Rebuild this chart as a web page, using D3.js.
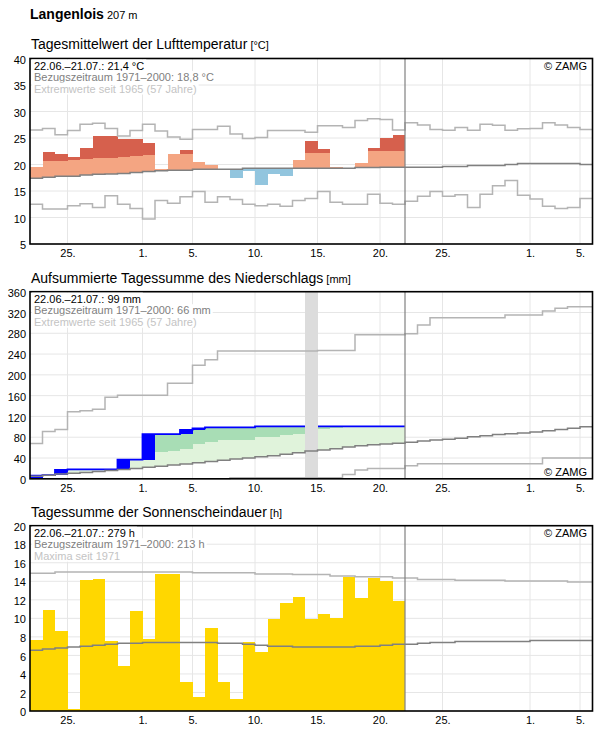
<!DOCTYPE html>
<html>
<head>
<meta charset="utf-8">
<script src="https://cdn.jsdelivr.net/npm/d3@7"></script>
<style>
  body { margin: 0; background: #fff; }
  svg text { font-family: "Liberation Sans", Arial, sans-serif; }
</style>
</head>
<body>
<svg id="chart" width="596" height="729"></svg>
<script>
// --- data ---
// observed period 22.06.–21.07. (30 days), climate values 22.06.–05.08. (45 days)
const startDay = new Date(Date.UTC(2021, 5, 22));
const endDay = new Date(Date.UTC(2021, 7, 6));
const obsEnd = new Date(Date.UTC(2021, 6, 22));
const tickDates = [[5, 25], [6, 1], [6, 5], [6, 10], [6, 15], [6, 20], [6, 25], [7, 1], [7, 5]];

// temperature [°C]
const tempTicks = [5, 10, 15, 20, 25, 30, 35, 40];
const tempObs = [19.6, 22.4, 22.0, 21.4, 23.1, 25.4, 25.4, 24.9, 24.9, 24.1,
                 19.2, 22.0, 22.7, 20.5, 19.9, 19.1, 17.5, 18.8, 16.2, 18.2,
                 17.9, 20.9, 24.4, 22.9, 19.5, 19.3, 20.2, 23.1, 25.0, 25.6];
const tempUpper = [20.5, 20.66, 20.7, 20.85, 21.04, 21.2, 21.2, 21.4, 21.6, 21.8,
                   21.9, 22.0, 22.0, 22.1, 22.1, 22.1, 22.1, 22.1, 22.2, 22.2,
                   22.2, 22.2, 22.2, 22.2, 22.3, 22.4, 22.5, 22.55, 22.55, 22.55];
const tempMean = [17.4, 17.6, 17.8, 17.8, 18.0, 18.15, 18.2, 18.3, 18.5, 18.7,
                  18.8, 18.9, 18.9, 19.1, 19.1, 19.1, 19.1, 19.3, 19.3, 19.3,
                  19.3, 19.3, 19.3, 19.3, 19.3, 19.3, 19.45, 19.45, 19.5, 19.5,
                  19.5, 19.5, 19.5, 19.6, 19.6, 19.8, 19.8, 19.8, 20.0, 20.2,
                  20.2, 20.2, 20.2, 20.2, 20.0];
const tempMax = [26.5, 26.8, 25.6, 26.4, 27.6, 27.8, 26.8, 25.4, 26.4, 27.6,
                 26.3, 25.2, 24.75, 26.6, 26.6, 27.2, 25.75, 24.9, 25.1, 26.4,
                 26.4, 26.4, 26.1, 27.3, 27.3, 27.0, 28.3, 28.65, 28.5, 26.5,
                 27.9, 27.45, 26.6, 26.45, 27.0, 26.45, 27.6, 27.4, 26.45, 26.75,
                 26.8, 27.9, 27.45, 27.0, 26.6];
const tempMin = [12.5, 11.6, 11.6, 12.2, 12.6, 11.9, 14.1, 12.5, 11.7, 9.7,
                 13.2, 12.7, 13.9, 14.9, 12.9, 13.9, 13.4, 12.5, 12.2, 12.5,
                 12.1, 13.2, 13.6, 14.9, 12.9, 12.5, 12.5, 14.4, 12.7, 12.5,
                 13.05, 14.0, 14.9, 14.0, 14.3, 11.9, 14.4, 16.0, 17.0, 14.2,
                 13.5, 12.1, 11.7, 11.9, 13.6];

// precipitation, cumulative [mm]
const precTicks = [0, 40, 80, 120, 160, 200, 240, 280, 320, 360];
const precCum = [6, 7, 17, 18, 18, 18, 18, 37, 37, 86,
                 86, 86, 94, 97, 99, 99, 99, 99, 101, 101,
                 101, 101, 101, 101, 101, 101, 101, 101, 101, 101];
const precUpper = [9, 12, 17, 19, 21, 24, 27, 30, 40, 48,
                   52, 53.5, 57, 67.5, 71, 74.7, 74.7, 74.7, 81, 81,
                   84, 87, 92, 96.5, 98.5, 103, 106, 108, 110, 112];
const precMissing = [22];
const precMean = [5, 7, 9, 10.5, 12, 14, 16, 18, 20, 22,
                  24, 26.5, 28.5, 31, 33.5, 35.5, 38, 40, 42.5, 44.5,
                  47, 50, 53.5, 55.5, 58, 61, 63.5, 65.5, 67, 68.5,
                  70.5, 72.5, 74.5, 76, 78, 81, 83, 85, 86.5, 88,
                  90, 92.5, 95, 97.5, 100];
const precMax = [68, 91, 95, 129, 131, 134, 157, 161, 161, 161,
                 161, 184, 184, 218.5, 229, 246, 246, 246, 246, 246,
                 246, 246, 246, 247, 247, 247, 277, 277, 277, 277,
                 279, 296, 310, 310, 310, 310, 310, 310, 315, 315,
                 315, 323, 328, 331, 331];
const precMin = [0, 0, 0, 0, 0, 0, 0, 0, 0, 0,
                 0, 0, 0, 0, 0, 0, 2, 2, 2, 2,
                 2, 2, 2, 2, 2, 8.5, 17, 20, 20, 20,
                 25, 29, 29, 29, 29, 29, 29, 29, 29, 29,
                 29, 40, 40, 40, 40];

// sunshine duration [h]
const sunTicks = [0, 2, 4, 6, 8, 10, 12, 14, 16, 18, 20];
const sunObs = [7.7, 10.9, 8.6, 0.2, 14.1, 14.3, 7.6, 4.9, 10.8, 7.8,
                14.8, 14.8, 3.1, 1.5, 9.0, 3.1, 1.3, 7.5, 6.4, 9.9,
                11.7, 12.3, 9.9, 10.5, 10.0, 14.5, 12.2, 14.4, 14.0, 11.9];
const sunMean = [6.55, 6.7, 6.8, 6.9, 7.0, 7.1, 7.2, 7.3, 7.3, 7.4,
                 7.4, 7.4, 7.4, 7.4, 7.4, 7.3, 7.3, 7.2, 7.1, 7.0,
                 7.0, 6.9, 6.9, 6.9, 6.9, 6.9, 7.0, 7.0, 7.1, 7.2,
                 7.2, 7.3, 7.4, 7.4, 7.5, 7.5, 7.5, 7.5, 7.5, 7.5,
                 7.6, 7.6, 7.6, 7.6, 7.6];
const sunMax = [14.86, 14.86, 15.0, 15.0, 15.0, 15.0, 15.0, 15.0, 15.0, 15.0,
                15.0, 15.0, 15.0, 14.93, 14.93, 14.93, 14.93, 14.93, 14.8, 14.8,
                14.8, 14.72, 14.72, 14.72, 14.57, 14.57, 14.5, 14.5, 14.5, 14.35,
                14.35, 14.2, 14.2, 14.2, 14.1, 14.1, 14.1, 14.1, 14.03, 14.03,
                14.03, 14.03, 14.03, 13.92, 13.92];

// --- layout ---
const svg = d3.select("#chart");
const left = 30, right = 592.5;
const days = d3.utcDay.range(startDay, endDay);

let x = d3.scaleUtc()
    .domain([startDay, endDay])
    .range([left, right]);

const dayEnd = i => x(d3.utcDay.offset(days[i], 1));

svg.append("text")
    .attr("x", 30).attr("y", 18.5)
    .style("font-size", "14px").style("font-weight", "bold")
    .text("Langenlois")
  .append("tspan")
    .style("font-size", "11px").style("font-weight", "normal")
    .text(" 207 m");

function makePanel(p) {
    let g = svg.append("g");
    let y = d3.scaleLinear().domain(p.domain).range([p.bottom, p.top]);

    // title
    g.append("text")
        .attr("x", 31).attr("y", p.titleY)
        .style("font-size", "14px")
        .text(p.title)
      .append("tspan")
        .style("font-size", "11px")
        .text(" " + p.unit);

    // grid
    g.selectAll(".hgrid").data(p.ticks)
      .enter().append("line")
        .attr("x1", left).attr("x2", right)
        .attr("y1", d => y(d)).attr("y2", d => y(d))
        .attr("stroke", "#e6e6e6").attr("stroke-width", 1);
    let tdates = tickDates.map(d => new Date(Date.UTC(2021, d[0], d[1])));
    g.selectAll(".vgrid").data(tdates)
      .enter().append("line")
        .attr("x1", d => x(d)).attr("x2", d => x(d))
        .attr("y1", p.top).attr("y2", p.bottom)
        .attr("stroke", "#e6e6e6").attr("stroke-width", 1);

    // axes
    let ya = g.append("g")
        .attr("transform", "translate(" + left + ",0)")
        .call(d3.axisLeft(y).tickValues(p.ticks).tickSize(0).tickPadding(4));
    ya.select(".domain").remove();
    ya.selectAll("text").style("font-size", "11px").attr("fill", "#000")
        .attr("font-family", null).attr("dy", "0.42em");

    let xa = g.append("g")
        .attr("transform", "translate(0," + p.bottom + ")")
        .call(d3.axisBottom(x).tickValues(tdates).tickFormat(d3.utcFormat("%-d.")).tickSize(0).tickPadding(5));
    xa.select(".domain").remove();
    xa.selectAll("text").style("font-size", "11px").attr("fill", "#000").attr("font-family", null);

    let data = g.append("g");
    let over = g.append("g");
    return { g, y, data, over, p };
}

function finishPanel(P) {
    let p = P.p, g = P.g;
    g.append("line")
        .attr("x1", x(obsEnd)).attr("x2", x(obsEnd))
        .attr("y1", p.top).attr("y2", p.bottom)
        .attr("stroke", "#808080").attr("stroke-width", 1.2);
    g.append("rect")
        .attr("x", left).attr("y", p.top)
        .attr("width", right - left).attr("height", p.bottom - p.top)
        .attr("fill", "none").attr("stroke", "#000").attr("stroke-width", 1.6);

    let cols = ["#000", "#808080", "#c4c4c4"];
    p.info.forEach((t, i) => {
        let tx = g.append("text")
            .attr("x", 34).attr("y", p.top + 11 + i * 11.5)
            .style("font-size", "11px").attr("fill", cols[i])
            .text(t);
        let bb = tx.node().getBBox();
        g.insert("rect", () => tx.node())
            .attr("x", bb.x - 2).attr("y", bb.y)
            .attr("width", bb.width + 4).attr("height", bb.height)
            .attr("fill", "#fff");
    });

    g.append("text")
        .attr("x", 587).attr("y", p.zamgY)
        .attr("text-anchor", "end")
        .style("font-size", "11px").attr("fill", "#000")
        .text("\u00a9 ZAMG");
}

function stepLine(P, vals, color, width) {
    let pts = vals.map((v, i) => [x(days[i]), v]);
    pts.push([dayEnd(vals.length - 1), vals[vals.length - 1]]);
    let line = d3.line().x(d => d[0]).y(d => P.y(d[1])).curve(d3.curveStepAfter);
    P.data.append("path")
        .datum(pts)
        .attr("d", line)
        .attr("fill", "none")
        .attr("stroke", color)
        .attr("stroke-width", width);
}

function band(P, i, lo, hi, color) {
    if (hi <= lo) return;
    P.data.append("rect")
        .attr("x", x(days[i]))
        .attr("width", dayEnd(i) - x(days[i]))
        .attr("y", P.y(hi))
        .attr("height", P.y(lo) - P.y(hi))
        .attr("fill", color)
        .attr("shape-rendering", "crispEdges");
}

// --- panel 1: temperature ---
let P1 = makePanel({
    top: 58.5, bottom: 244, domain: [5, 40], ticks: tempTicks, titleY: 48.5,
    title: "Tagesmittelwert der Lufttemperatur", unit: "[°C]", zamgY: 69.5,
    info: ["22.06.–21.07.: 21,4 °C", "Bezugszeitraum 1971–2000: 18,8 °C", "Extremwerte seit 1965 (57 Jahre)"]
});
tempObs.forEach((o, i) => {
    let m = tempMean[i], u = tempUpper[i];
    if (o >= m) {
        band(P1, i, m, Math.min(o, u), "#f4a582");
        if (o > u) band(P1, i, u, o, "#d6604d");
    } else {
        band(P1, i, o, m, "#92c5de");
    }
});
stepLine(P1, tempMax, "#b4b4b4", 1.5);
stepLine(P1, tempMin, "#b4b4b4", 1.5);
stepLine(P1, tempMean, "#808080", 1.5);
finishPanel(P1);

// --- panel 2: precipitation ---
let P2 = makePanel({
    top: 291.7, bottom: 478.8, domain: [0, 360], ticks: precTicks, titleY: 283,
    title: "Aufsummierte Tagessumme des Niederschlags", unit: "[mm]", zamgY: 475.5,
    info: ["22.06.–21.07.: 99 mm", "Bezugszeitraum 1971–2000: 66 mm", "Extremwerte seit 1965 (57 Jahre)"]
});
precCum.forEach((c, i) => {
    let m = precMean[i], u = precUpper[i];
    if (c > m) {
        band(P2, i, m, Math.min(c, u), "#e0f3db");
        if (c > u) band(P2, i, u, c, "#a8ddb5");
    }
});
precCum.forEach((c, i) => {
    let prev = i > 0 ? precCum[i - 1] : 0;
    band(P2, i, prev, c, "#0000ff");
});
stepLine(P2, precCum, "#0000ff", 1.8);
precMissing.forEach(i => band(P2, i, 0, 360, "#dcdcdc"));
stepLine(P2, precMax, "#b4b4b4", 1.5);
stepLine(P2, precMin, "#b4b4b4", 1.5);
stepLine(P2, precMean, "#808080", 1.5);
finishPanel(P2);

// --- panel 3: sunshine ---
let P3 = makePanel({
    top: 525.7, bottom: 711, domain: [0, 20], ticks: sunTicks, titleY: 517.3,
    title: "Tagessumme der Sonnenscheindauer", unit: "[h]", zamgY: 536.7,
    info: ["22.06.–21.07.: 279 h", "Bezugszeitraum 1971–2000: 213 h", "Maxima seit 1971"]
});
sunObs.forEach((s, i) => band(P3, i, 0, s, "#ffd700"));
stepLine(P3, sunMax, "#b4b4b4", 1.5);
stepLine(P3, sunMean, "#808080", 1.5);
finishPanel(P3);
</script>
</body>
</html>
